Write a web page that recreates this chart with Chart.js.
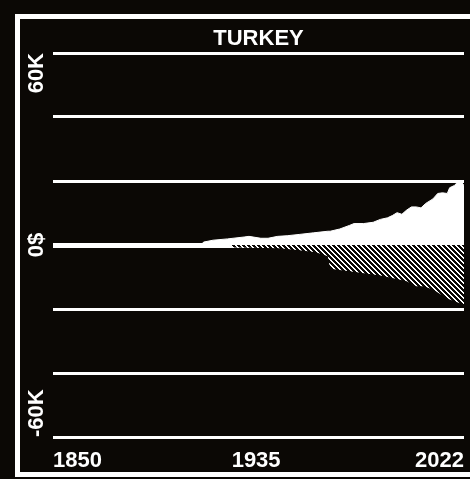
<!DOCTYPE html>
<html>
<head>
<meta charset="utf-8">
<title>Turkey</title>
<script src="https://cdn.jsdelivr.net/npm/chart.js@4/dist/chart.umd.min.js"></script>
<style>
  html, body { margin: 0; padding: 0; background: #0b0805; overflow: hidden; }
  #frame {
    position: absolute; left: 15px; top: 14px;
    width: 460px; height: 453px;
    border: 5px solid #ffffff;
  }
  #chart { position: absolute; left: 0; top: 0; }
</style>
</head>
<body>
<div id="frame"></div>
<canvas id="chart" width="470" height="479"></canvas>
<script>
// ── DATA ──────────────────────────────────────────
const title = 'TURKEY';
const yearRange = [1850, 2022];
const xTickLabels = ['1850', '1935', '2022'];
const yTickValues = [60000, 0, -60000];
const yTickLabels = ['60K', '0$', '-60K'];

const posYears  = [1850, 1912, 1913, 1917, 1923, 1930, 1932, 1937, 1940, 1944, 1948, 1953, 1959, 1965,
                   1966, 1970, 1974, 1976, 1980, 1984, 1987, 1990, 1992, 1994, 1996, 1998, 2000, 2002,
                   2004, 2006, 2009, 2011, 2013, 2015, 2016, 2018, 2019, 2021, 2022];
const posValues = [0, 0, 900, 1500, 1900, 2500, 2700, 2100, 2100, 2700, 2900, 3300, 3800, 4300,
                   4300, 5000, 6100, 6700, 6700, 7100, 8000, 8500, 9200, 10100, 9600, 10900, 11900, 11900,
                   11600, 13000, 14400, 16100, 16300, 16100, 17900, 18600, 19400, 19600, 18600];

const negYears  = [1850, 1924, 1925, 1945, 1955, 1960, 1965, 1966, 1974, 1981, 1987, 1992, 1998,
                   2002, 2005, 2009, 2013, 2016, 2020, 2022];
const negValues = [0, 0, -800, -1000, -1800, -2300, -3500, -7400, -8200, -8900, -9500, -10300, -11300,
                   -12900, -12900, -13900, -15800, -17000, -18100, -18600];

// faint dashed reference line, only visible over the white area
const refYears  = [1913, 1940, 1970, 2000, 2022];
const refValues = [800, 900, 1100, 1300, 1400];
const stepYears  = [1974, 1987, 1988, 1998, 2005, 2006, 2013, 2015, 2016, 2017, 2022];
const stepValues = [5700, 5700, null, 10600, 10600, null, 15800, 15800, null, 18200, 18200];

// ── HELPERS ───────────────────────────────────────
const FONT = '"Liberation Sans", Arial, sans-serif';

function toPoints(xs, ys) {
  return xs.map((x, i) => ({ x, y: ys[i] }));
}

function hatchPattern() {
  const n = 5;
  const c = document.createElement('canvas');
  c.width = n; c.height = n;
  const g = c.getContext('2d');
  const img = g.createImageData(n, n);
  for (let y = 0; y < n; y++) {
    for (let x = 0; x < n; x++) {
      const on = ((x - y + 2 * n) % n) < 2;
      const i = (y * n + x) * 4;
      img.data[i] = on ? 255 : 11;
      img.data[i + 1] = on ? 255 : 8;
      img.data[i + 2] = on ? 255 : 5;
      img.data[i + 3] = 255;
    }
  }
  g.putImageData(img, 0, 0);
  return g.createPattern(c, 'repeat');
}

// ── LABELS PLUGIN ─────────────────────────────────
const labelsPlugin = {
  id: 'labels',
  afterDraw(chart) {
    const { ctx, chartArea, scales } = chart;
    ctx.save();
    ctx.fillStyle = '#ffffff';
    ctx.font = `bold 22px ${FONT}`;
    ctx.textBaseline = 'alphabetic';

    // title
    ctx.textAlign = 'center';
    ctx.fillText(title, (chartArea.left + chartArea.right) / 2, 45);

    // x labels
    const xs = [yearRange[0], Number(xTickLabels[1]), yearRange[1]];
    const xAligns = ['left', 'center', 'right'];
    xTickLabels.forEach((t, i) => {
      ctx.textAlign = xAligns[i];
      ctx.fillText(t, scales.x.getPixelForValue(xs[i]), 467);
    });

    // y labels (rotated)
    const yAligns = ['right', 'center', 'left'];
    yTickLabels.forEach((t, i) => {
      const py = scales.y.getPixelForValue(yTickValues[i]);
      ctx.save();
      ctx.translate(43, py);
      ctx.rotate(-Math.PI / 2);
      ctx.textAlign = yAligns[i];
      ctx.fillText(t, 0, 0);
      ctx.restore();
    });
    ctx.restore();
  },
};

// ── CHART ─────────────────────────────────────────
new Chart(document.getElementById('chart').getContext('2d'), {
  type: 'line',
  data: {
    datasets: [
      {
        data: toPoints(posYears, posValues),
        borderColor: '#ffffff',
        backgroundColor: '#ffffff',
        borderWidth: 1,
        pointRadius: 0,
        fill: 'origin',
        tension: 0,
      },
      {
        data: toPoints(negYears, negValues),
        borderColor: 'rgba(0,0,0,0)',
        backgroundColor: hatchPattern(),
        borderWidth: 0,
        pointRadius: 0,
        fill: 'origin',
        tension: 0,
      },
      {
        data: toPoints(refYears, refValues),
        borderColor: 'rgba(140,140,140,0.7)',
        borderWidth: 1,
        borderDash: [4, 2],
        pointRadius: 0,
        fill: false,
      },
      {
        data: toPoints(stepYears, stepValues),
        borderColor: 'rgba(140,140,140,0.7)',
        borderWidth: 1,
        borderDash: [4, 2],
        pointRadius: 0,
        fill: false,
        spanGaps: false,
      },
    ],
  },
  options: {
    responsive: false,
    animation: false,
    devicePixelRatio: 1,
    layout: { padding: { left: 53, top: 53, right: 6, bottom: 34 } },
    plugins: {
      legend: { display: false },
      tooltip: { enabled: false },
    },
    scales: {
      x: {
        type: 'linear',
        min: yearRange[0],
        max: yearRange[1],
        grid: { display: false },
        border: { display: false },
        ticks: { display: false },
      },
      y: {
        min: -60000,
        max: 60000,
        ticks: { display: false, stepSize: 20000 },
        border: { display: false },
        grid: {
          color: '#ffffff',
          drawTicks: false,
          lineWidth: c => (c.tick && c.tick.value === 0 ? 5 : 3),
        },
      },
    },
  },
  plugins: [labelsPlugin],
});
</script>
</body>
</html>
